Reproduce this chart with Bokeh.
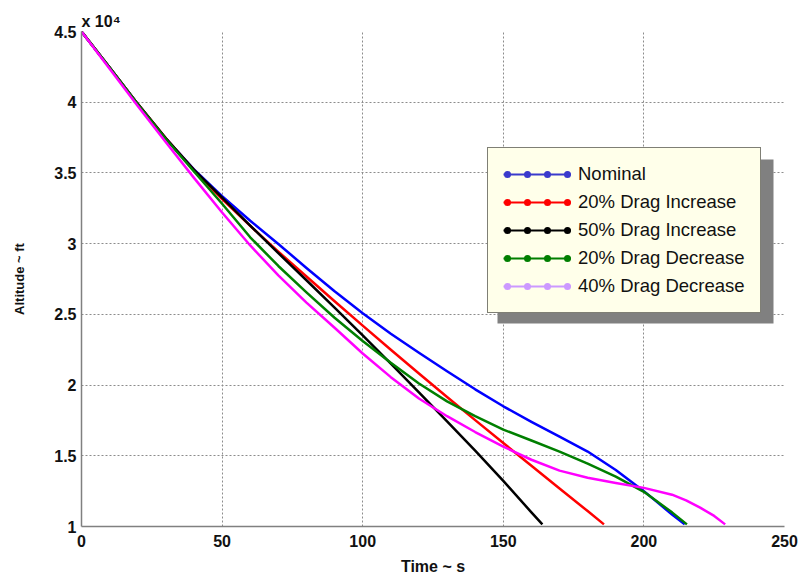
from bokeh.plotting import figure
from bokeh.models import Range1d, FixedTicker, Legend, LegendItem, BoxAnnotation, Node
from bokeh.embed import file_html
from bokeh.resources import INLINE

NaN = float("nan")

# ---------------- data (time in s, altitude in ft) ----------------
time_nominal = [0, 10, 20, 30, 40, 50, 60, 70, 80, 90, 100, 110, 120, 130, 140, 150,
                160, 170, 180, 190, 200, 210, 214.5]
alt_nominal = [45000, 42450, 39880, 37420, 35250, 33350, 31620, 29980, 28280, 26630, 25080,
               23630, 22280, 20980, 19700, 18500, 17400, 16350, 15300, 14000, 12500, 10850, 10150]

time_drag_up20 = [0, 10, 20, 30, 40, 50, 60, 70, 80, 90, 100, 110, 120, 130, 140, 150,
                  160, 170, 180, 185.8]
alt_drag_up20 = [45000, 42450, 39880, 37450, 35200, 33150, 31250, 29430, 27680, 25930, 24200,
                 22500, 20820, 19160, 17520, 15900, 14290, 12690, 11090, 10150]

time_drag_up50 = [0, 10, 20, 30, 40, 50, 60, 70, 80, 90, 100, 110, 120, 130, 140, 150,
                  160, 163.9]
alt_drag_up50 = [45000, 42450, 39880, 37450, 35220, 33250, 31280, 29330, 27410, 25480, 23520,
                 21520, 19490, 17440, 15370, 13220, 11000, 10150]

time_drag_dn20 = [0, 10, 20, 30, 40, 50, 60, 70, 80, 90, 100, 110, 120, 130, 140, 150,
                  160, 170, 180, 190, 200, 210, 215.3]
alt_drag_dn20 = [45000, 42450, 39850, 37400, 35100, 32820, 30450, 28420, 26560, 24760, 23120,
                 21580, 20110, 18850, 17800, 16850, 16080, 15300, 14450, 13530, 12450, 11000, 10150]

time_drag_dn40 = [0, 10, 20, 30, 40, 50, 60, 70, 80, 90, 100, 110, 120, 130, 140, 150,
                  160, 170, 180, 190, 200, 210, 215, 220, 225, 228.9]
alt_drag_dn40 = [45000, 42370, 39740, 37170, 34650, 32200, 29870, 27760, 25830, 24050, 22230,
                 20560, 19050, 17800, 16680, 15650, 14720, 13950, 13450, 13080, 12730, 12250,
                 11850, 11330, 10750, 10150]

series_names = ["Nominal", "20% Drag Increase", "50% Drag Increase",
                "20% Drag Decrease", "40% Drag Decrease"]
series_times = [time_nominal, time_drag_up20, time_drag_up50, time_drag_dn20, time_drag_dn40]
series_alts = [alt_nominal, alt_drag_up20, alt_drag_up50, alt_drag_dn20, alt_drag_dn40]
line_colors = ["#0000ff", "#ff0000", "#000000", "#007f00", "#ff00ff"]
legend_colors = ["#3a3acc", "#ff0000", "#000000", "#007f00", "#cc99ff"]

x_ticks = [0, 50, 100, 150, 200, 250]
y_ticks = [10000, 15000, 20000, 25000, 30000, 35000, 40000, 45000]
y_tick_labels = ["1", "1.5", "2", "2.5", "3", "3.5", "4", "4.5"]
y_scale_note = "x 10\u2074"

FONT = "Liberation Sans"

p = figure(width=806, height=581, output_backend="svg", toolbar_location=None,
           x_range=Range1d(0, 250), y_range=Range1d(10000, 45000),
           min_border_left=81, min_border_right=22, min_border_top=31, min_border_bottom=55)
p.outline_line_color = None
p.background_fill_color = "white"
p.border_fill_color = "white"

# exponent note above the y axis
p.title.text = y_scale_note
p.title.align = "left"
p.title.text_font = FONT
p.title.text_font_style = "bold"
p.title.text_font_size = "16px"
p.title.text_color = "#111111"
p.title.standoff = 4

# axes
p.xaxis.ticker = FixedTicker(ticks=x_ticks)
p.yaxis.ticker = FixedTicker(ticks=y_ticks)
p.yaxis.major_label_overrides = {t: s for t, s in zip(y_ticks, y_tick_labels)}
for ax in (p.xaxis, p.yaxis):
    ax.axis_line_color = "#808080"
    ax.axis_line_width = 1.5
    ax.major_tick_in = 0
    ax.major_tick_out = 0
    ax.minor_tick_in = 0
    ax.minor_tick_out = 0
    ax.major_label_text_font = FONT
    ax.major_label_text_font_style = "bold"
    ax.major_label_text_font_size = "16px"
    ax.major_label_text_color = "#111111"
    ax.axis_label_text_font = FONT
    ax.axis_label_text_font_style = "bold"
    ax.axis_label_text_color = "#111111"
p.xaxis.major_label_standoff = 8
p.yaxis.major_label_standoff = 5
p.xaxis.axis_label = "Time ~ s"
p.xaxis.axis_label_text_font_size = "16px"
p.xaxis.axis_label_standoff = 8
p.yaxis.axis_label = "Altitude ~ ft"
p.yaxis.axis_label_text_font_size = "13px"
p.yaxis.axis_label_standoff = 24

# grid
for g in (p.xgrid, p.ygrid):
    g.grid_line_color = "#8c8c8c"
    g.grid_line_dash = "2 2"
    g.grid_line_width = 1
p.xgrid.ticker = FixedTicker(ticks=x_ticks)
p.ygrid.ticker = FixedTicker(ticks=y_ticks)

# data lines
for t, a, c in zip(series_times, series_alts, line_colors):
    p.line(t, a, line_color=c, line_width=2.5, line_join="round")

# legend box geometry (screen pixels, relative to the frame's bottom-left corner)
LEG_X, LEG_Y, LEG_W, LEG_H, SHADOW = 406, 213, 276, 164, 10

# drop shadow behind the legend
shadow = BoxAnnotation(
    left=Node(target="frame", symbol="left", offset=LEG_X + SHADOW),
    right=Node(target="frame", symbol="left", offset=LEG_X + SHADOW + LEG_W),
    top=Node(target="frame", symbol="bottom", offset=-(LEG_Y - SHADOW + LEG_H)),
    bottom=Node(target="frame", symbol="bottom", offset=-(LEG_Y - SHADOW)),
    fill_color="#808080", fill_alpha=1, line_color=None, level="annotation")
p.add_layout(shadow)

items = []
for n, c in zip(series_names, legend_colors):
    r_line = p.line([NaN], [NaN], line_color=c, line_width=1.8)
    r_dots = p.line([NaN], [NaN], line_color=c, line_width=7, line_cap="round",
                    line_dash="0 20", line_dash_offset=-4)
    items.append(LegendItem(label=n, renderers=[r_line, r_dots]))
legend = Legend(items=items, location=(LEG_X, LEG_Y), background_fill_color="#ffffea",
                background_fill_alpha=1, border_line_color="black", border_line_width=1.5,
                label_text_color="#111111", label_text_font=FONT, label_text_font_size="18.5px",
                label_height=22, glyph_height=22, glyph_width=68,
                label_standoff=7, spacing=6, padding=15, margin=0)
p.add_layout(legend, "center")

open("out.html", "w").write(file_html(p, INLINE))
